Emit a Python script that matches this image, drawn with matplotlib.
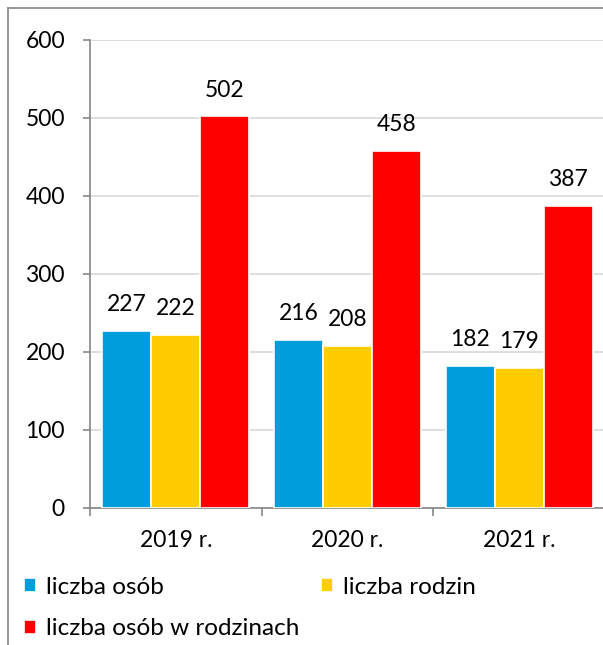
import matplotlib
matplotlib.use('Agg')
import matplotlib.pyplot as plt
from matplotlib.lines import Line2D
import numpy as np

# --------------------------------------------------------------
# Data
# --------------------------------------------------------------
years = ['2019 r.', '2020 r.', '2021 r.']
series_names = ['liczba osób', 'liczba rodzin', 'liczba osób w rodzinach']
liczba_osob = [227, 216, 182]
liczba_rodzin = [222, 208, 179]
liczba_osob_w_rodzinach = [502, 458, 387]
colors = ['#009DDC', '#FFCC00', '#FF0000']

plt.rcParams['font.family'] = ['Lato', 'DejaVu Sans']
FS = 16.5

W, H = 603, 645
fig = plt.figure(figsize=(W / 100, H / 100), dpi=100)
ax = fig.add_axes([90 / W, 137 / H, 515 / W, 468 / H])

x = np.arange(len(years))
bar_w = 0.285
values = [liczba_osob, liczba_rodzin, liczba_osob_w_rodzinach]
handles = []
for i, (vals, col, name) in enumerate(zip(values, colors, series_names)):
    bars = ax.bar(x + (i - 1) * bar_w, vals, bar_w, color=col,
                  edgecolor='white', linewidth=1.2, label=name, zorder=3)
    handles.append(bars)
    for b, v in zip(bars, vals):
        ax.annotate(str(v), (b.get_x() + b.get_width() / 2, v),
                    xytext=(0, 19), textcoords='offset points',
                    ha='center', va='center', fontsize=FS, color='black')

ax.set_xlim(-0.5, 2.5)
ax.set_ylim(0, 600)
ax.set_yticks(range(0, 601, 100))
ax.yaxis.grid(True, color='#D9D9D9', linewidth=1.2, zorder=0)

# category ticks at boundaries, labels at centres
ax.set_xticks(np.arange(-0.5, 2.6, 1))
ax.set_xticklabels([])
ax.set_xticks(x, minor=True)
ax.set_xticklabels(years, minor=True)
ax.tick_params(axis='x', which='major', length=6, color='#868686', width=1.2)
ax.tick_params(axis='x', which='minor', length=0, pad=16, labelsize=FS)
ax.tick_params(axis='y', length=5, color='#868686', width=1.2, pad=13,
               labelsize=FS)

for s in ['top', 'right']:
    ax.spines[s].set_visible(False)
for s in ['left', 'bottom']:
    ax.spines[s].set_color('#868686')
    ax.spines[s].set_linewidth(1.2)

# legend: row-major order
leg = fig.legend([handles[0], handles[2], handles[1]],
                 [series_names[0], series_names[2], series_names[1]],
                 ncol=2, loc='upper left', bbox_to_anchor=(14 / W, 1 - 567 / H),
                 frameon=False, fontsize=17.5, handlelength=0.5,
                 handleheight=0.5, handletextpad=0.4, columnspacing=0.9,
                 labelspacing=0.85, borderaxespad=0)

# outer chart border (left and top)
fig.add_artist(Line2D([7.5 / W, 7.5 / W], [0, 1 - 8 / H], transform=fig.transFigure,
                      color='#868686', linewidth=1.2))
fig.add_artist(Line2D([7.5 / W, 1], [1 - 8 / H, 1 - 8 / H], transform=fig.transFigure,
                      color='#868686', linewidth=1.2))

fig.savefig('out.png', dpi=100)
